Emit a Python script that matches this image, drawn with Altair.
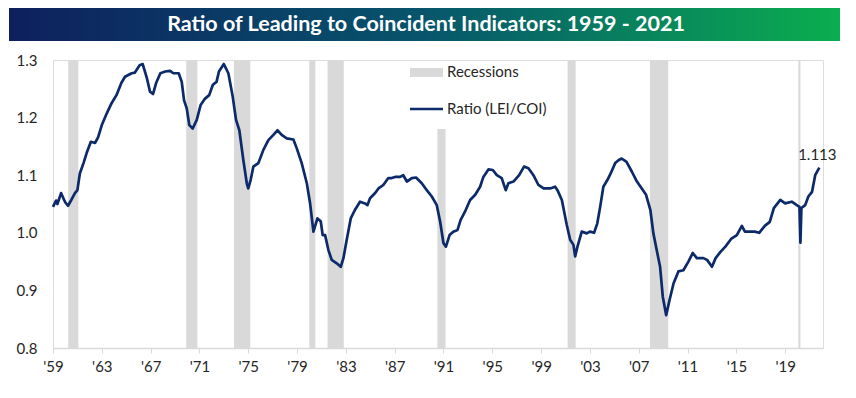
import altair as alt
import pandas as pd

# ---------------- data ----------------
years = [
    1959.00, 1959.25, 1959.36, 1959.66, 1959.85, 1960.00, 1960.23, 1960.50, 1960.80, 1961.00,
    1961.20, 1961.50, 1961.75, 1962.10, 1962.45, 1962.70, 1963.00, 1963.40, 1963.80, 1964.20,
    1964.60, 1964.90, 1965.45, 1965.70, 1966.10, 1966.35, 1966.70, 1966.95, 1967.20, 1967.45,
    1967.80, 1968.20, 1968.60, 1968.86, 1969.30, 1969.55, 1969.74, 1969.96, 1970.17, 1970.45,
    1970.78, 1971.10, 1971.46, 1971.80, 1972.10, 1972.40, 1972.60, 1973.00, 1973.37, 1973.73,
    1974.00, 1974.27, 1974.60, 1974.88, 1975.00, 1975.20, 1975.42, 1975.83, 1976.24, 1976.65,
    1977.06, 1977.39, 1977.74, 1978.15, 1978.70, 1978.97, 1979.38, 1979.80, 1980.07, 1980.34,
    1980.67, 1980.94, 1981.10, 1981.30, 1981.57, 1981.84, 1982.25, 1982.58, 1982.80, 1983.07,
    1983.40, 1983.75, 1984.16, 1984.57, 1984.77, 1984.98, 1985.40, 1985.67, 1986.07, 1986.48,
    1986.76, 1987.03, 1987.44, 1987.70, 1988.00, 1988.40, 1988.75, 1989.22, 1989.63, 1990.04,
    1990.45, 1990.72, 1991.00, 1991.20, 1991.50, 1991.80, 1992.15, 1992.40, 1992.77, 1993.18,
    1993.60, 1994.00, 1994.27, 1994.68, 1995.04, 1995.37, 1995.77, 1996.10, 1996.32, 1996.73,
    1997.20, 1997.60, 1997.96, 1998.37, 1998.78, 1999.20, 1999.74, 2000.15, 2000.34, 2000.70,
    2001.10, 2001.38, 2001.65, 2001.79, 2001.98, 2002.33, 2002.74, 2003.00, 2003.34, 2003.60,
    2003.84, 2004.10, 2004.44, 2004.70, 2005.07, 2005.34, 2005.60, 2006.00, 2006.44, 2006.85,
    2007.25, 2007.60, 2007.95, 2008.20, 2008.53, 2008.75, 2008.97, 2009.25, 2009.52, 2009.85,
    2010.25, 2010.66, 2011.07, 2011.43, 2011.76, 2012.30, 2012.60, 2013.00, 2013.30, 2013.70,
    2014.10, 2014.60, 2015.04, 2015.45, 2015.70, 2016.10, 2016.50, 2016.87, 2017.33, 2017.74,
    2018.07, 2018.60, 2019.00, 2019.54, 2019.95, 2020.17, 2020.25, 2020.33, 2020.64, 2020.90,
    2021.20, 2021.46, 2021.80,
]
ratio = [
    1.045, 1.056, 1.050, 1.069, 1.060, 1.053, 1.047, 1.057, 1.069, 1.074,
    1.103, 1.121, 1.138, 1.158, 1.156, 1.166, 1.187, 1.207, 1.225, 1.239,
    1.260, 1.271, 1.277, 1.278, 1.291, 1.293, 1.268, 1.245, 1.241, 1.260,
    1.277, 1.280, 1.281, 1.277, 1.277, 1.262, 1.230, 1.216, 1.187, 1.181,
    1.196, 1.222, 1.233, 1.239, 1.257, 1.262, 1.280, 1.293, 1.277, 1.236,
    1.196, 1.178, 1.126, 1.086, 1.077, 1.092, 1.115, 1.121, 1.144, 1.161,
    1.170, 1.178, 1.170, 1.164, 1.162, 1.147, 1.121, 1.086, 1.051, 1.002,
    1.025, 1.020, 0.996, 0.996, 0.970, 0.953, 0.947, 0.941, 0.956, 0.988,
    1.025, 1.040, 1.054, 1.051, 1.048, 1.060, 1.069, 1.077, 1.083, 1.095,
    1.095, 1.097, 1.097, 1.100, 1.089, 1.095, 1.096, 1.086, 1.074, 1.063,
    1.048, 1.020, 0.982, 0.976, 0.996, 1.002, 1.005, 1.022, 1.037, 1.057,
    1.066, 1.080, 1.097, 1.110, 1.109, 1.100, 1.095, 1.074, 1.086, 1.089,
    1.100, 1.115, 1.112, 1.100, 1.083, 1.077, 1.077, 1.080, 1.074, 1.057,
    1.014, 0.988, 0.979, 0.959, 0.976, 1.002, 0.999, 1.002, 1.000, 1.016,
    1.045, 1.080, 1.092, 1.103, 1.121, 1.126, 1.129, 1.123, 1.106, 1.089,
    1.077, 1.066, 1.040, 0.999, 0.964, 0.941, 0.889, 0.857, 0.883, 0.912,
    0.933, 0.935, 0.950, 0.965, 0.956, 0.956, 0.953, 0.941, 0.956, 0.967,
    0.976, 0.990, 0.996, 1.012, 1.002, 1.002, 1.002, 1.000, 1.012, 1.019,
    1.043, 1.057, 1.051, 1.054, 1.048, 1.045, 0.983, 1.043, 1.048, 1.063,
    1.071, 1.100, 1.113,
]

rec_start = [1960.25, 1969.92, 1973.83, 1980.00, 1981.50, 1990.50, 2001.17, 2007.92, 2020.08]
rec_end = [1961.08, 1970.83, 1975.17, 1980.50, 1982.83, 1991.17, 2001.83, 2009.42, 2020.25]
rec_top = [1.3, 1.3, 1.3, 1.3, 1.3, 1.18, 1.3, 1.3, 1.3]

tick_years = [1959, 1963, 1967, 1971, 1975, 1979, 1983, 1987, 1991, 1995, 1999, 2003, 2007, 2011, 2015, 2019]
y_ticks = [0.8, 0.9, 1.0, 1.1, 1.2, 1.3]

title_text = "Ratio of Leading to Coincident Indicators: 1959 - 2021"
legend_labels = ["Recessions", "Ratio (LEI/COI)"]
last_label = "1.113"

# ---------------- chart ----------------
FONT = "Lato"
NAVY = "#0c2a6a"
W, H = 770, 288

df_line = pd.DataFrame({"year": years, "ratio": ratio})
df_rec = pd.DataFrame({"start": rec_start, "end": rec_end, "top": rec_top})
df_last = pd.DataFrame({"year": [years[-1]], "ratio": [ratio[-1]], "label": [last_label]})

x_scale = alt.Scale(domain=[1959, 2022.1], nice=False, zero=False)
y_scale = alt.Scale(domain=[0.8, 1.3], nice=False, zero=False)

x_axis = alt.Axis(
    values=tick_years, title=None, grid=False,
    labelExpr="\"'\" + substring(toString(datum.value), 2, 4)",
    domainColor="#d9d9d9", domainWidth=1.5, tickColor="#d9d9d9", tickSize=5,
    labelFont=FONT, labelFontSize=15, labelColor="#262626", labelPadding=6,
    labelFlush=False,
)
y_axis = alt.Axis(
    values=y_ticks, format=".1f", title=None, grid=False, domain=False, ticks=False,
    labelFont=FONT, labelFontSize=15, labelColor="#262626", labelPadding=16,
)

rec = alt.Chart(df_rec).mark_rect(color="#d9d9d9").encode(
    x=alt.X("start:Q", scale=x_scale, axis=x_axis),
    x2="end:Q",
    y=alt.Y("top:Q", scale=y_scale, axis=y_axis),
    y2=alt.datum(0.8),
)

line = alt.Chart(df_line).mark_line(color=NAVY, strokeWidth=2.7, strokeJoin="round").encode(
    x=alt.X("year:Q", scale=x_scale),
    y=alt.Y("ratio:Q", scale=y_scale),
)

last = alt.Chart(df_last).mark_text(
    font=FONT, fontSize=15, color="#262626", dy=-13, dx=-2, align="center"
).encode(
    x=alt.X("year:Q", scale=x_scale),
    y=alt.Y("ratio:Q", scale=y_scale),
    text="label:N",
)

# title banner
banner = alt.Chart(pd.DataFrame({"k": [0]})).mark_rect(
    fill=alt.LinearGradient(
        gradient="linear",
        stops=[
            alt.GradientStop(offset=0, color="#0e1f5e"),
            alt.GradientStop(offset=0.5, color="#07556c"),
            alt.GradientStop(offset=1, color="#0aae4f"),
        ],
        x1=0, x2=1, y1=0, y2=0,
    )
).encode(x=alt.value(-44), x2=alt.value(787), y=alt.value(-52), y2=alt.value(-19))

banner_text = alt.Chart(pd.DataFrame({"t": [title_text]})).mark_text(
    font=FONT, fontSize=21.5, fontWeight="bold", color="white", align="center", baseline="middle"
).encode(text="t:N", x=alt.value(373), y=alt.value(-35))

# custom legend
leg_rect = alt.Chart(pd.DataFrame({"k": [0]})).mark_rect(color="#d9d9d9").encode(
    x=alt.value(357), x2=alt.value(390), y=alt.value(8), y2=alt.value(17)
)
leg_line = alt.Chart(pd.DataFrame({"k": [0]})).mark_rule(color=NAVY, strokeWidth=2.5).encode(
    x=alt.value(357), x2=alt.value(390), y=alt.value(49)
)
leg_text1 = alt.Chart(pd.DataFrame({"t": [legend_labels[0]]})).mark_text(
    font=FONT, fontSize=15, color="#262626", align="left", baseline="middle"
).encode(text="t:N", x=alt.value(394), y=alt.value(12))
leg_text2 = alt.Chart(pd.DataFrame({"t": [legend_labels[1]]})).mark_text(
    font=FONT, fontSize=15, color="#262626", align="left", baseline="middle"
).encode(text="t:N", x=alt.value(394), y=alt.value(49))

chart = alt.layer(
    rec, line, last, banner, banner_text, leg_rect, leg_line, leg_text1, leg_text2
).properties(
    width=W, height=H,
    autosize=alt.AutoSizeParams(type="none"),
    padding={"left": 45, "top": 52, "right": 25, "bottom": 30},
).configure_view(stroke=None).configure(background="white")

chart.save("out.html", embed_options={"renderer": "svg", "actions": False})
